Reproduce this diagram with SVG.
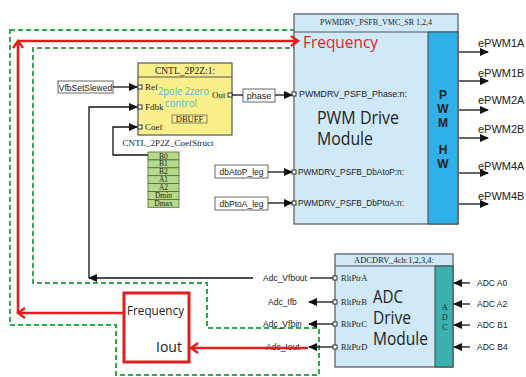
<svg xmlns="http://www.w3.org/2000/svg" width="526" height="377" viewBox="0 0 526 377">
  <style>
    .serif { font-family: "Liberation Serif", "DejaVu Serif", serif; fill: #222; }
    .sans { font-family: "Liberation Sans", Arial, sans-serif; fill: #222; }
    .big { font-family: "Open Sans", "Noto Sans", sans-serif; fill: #222; }
    .wire { stroke: #111; stroke-width: 1.3; fill: none; }
    .red { stroke: #e01e1e; stroke-width: 2.6; fill: none; }
    .dash { stroke: #2fa84f; stroke-width: 2; fill: none; stroke-dasharray: 5 3; }
    .port { fill: #fff; stroke: #333; stroke-width: 1; }
    .lbl { fill: #fff; stroke: #666; stroke-width: 1; }
  </style>
  <defs>
    <marker id="arr" markerUnits="userSpaceOnUse" markerWidth="9" markerHeight="8" refX="8" refY="4" orient="auto">
      <path d="M0,0 L9,4 L0,8 z" fill="#111"/>
    </marker>
    <marker id="redArr" markerUnits="userSpaceOnUse" markerWidth="10" markerHeight="12" refX="8" refY="6" orient="auto">
      <path d="M1,1 L8,6 L1,11" fill="none" stroke="#e01e1e" stroke-width="2.4"/>
    </marker>
  </defs>

  <rect width="526" height="377" fill="#fff"/>

  <!-- feedback region outline -->
  <path class="dash" d="M10,30 H301 V48 H33 V283 H207 V328 H319 V375 H116 V325 H10 Z"/>

  <!-- PWM drive module -->
  <g id="pwm-drive">
    <rect x="294" y="14" width="164" height="210" fill="#cfe9f8" stroke="#555" stroke-width="1.2"/>
    <line x1="294" y1="32" x2="458" y2="32" stroke="#555" stroke-width="1"/>
    <rect x="428" y="32" width="30" height="192" fill="#2fb0e8" stroke="#444" stroke-width="1"/>
    <text class="serif" x="376" y="25" font-size="8" text-anchor="middle">PWMDRV_PSFB_VMC_SR   1,2,4</text>
    <g class="sans" font-size="12" font-weight="bold" text-anchor="middle">
      <text x="443" y="99">P</text>
      <text x="443" y="113">W</text>
      <text x="443" y="127">M</text>
      <text x="443" y="154">H</text>
      <text x="443" y="168">W</text>
    </g>
    <text class="big" x="317" y="124" font-size="19" textLength="82" lengthAdjust="spacingAndGlyphs">PWM Drive</text>
    <text class="big" x="317" y="145" font-size="19" textLength="56" lengthAdjust="spacingAndGlyphs">Module</text>
    <text x="303" y="48" font-family="Open Sans, Noto Sans, sans-serif" font-size="17" fill="#e01e1e" textLength="75" lengthAdjust="spacingAndGlyphs">Frequency</text>
    <rect class="port" x="292" y="92" width="4" height="4"/>
    <rect class="port" x="292" y="170" width="4" height="4"/>
    <rect class="port" x="292" y="201" width="4" height="4"/>
    <g class="sans" font-size="9.5">
      <text x="299" y="97" textLength="108" lengthAdjust="spacingAndGlyphs">PWMDRV_PSFB_Phase:n:</text>
      <text x="298" y="175" textLength="106" lengthAdjust="spacingAndGlyphs">PWMDRV_PSFB_DbAtoP:n:</text>
      <text x="298" y="206" textLength="106" lengthAdjust="spacingAndGlyphs">PWMDRV_PSFB_DbPtoA:n:</text>
    </g>
  </g>

  <!-- PWM outputs -->
  <g id="pwm-outputs" class="sans" font-size="11">
    <text x="478" y="47">ePWM1A</text>
    <text x="478" y="77">ePWM1B</text>
    <text x="478" y="104">ePWM2A</text>
    <text x="478" y="133">ePWM2B</text>
    <text x="478" y="170">ePWM4A</text>
    <text x="478" y="200">ePWM4B</text>
  </g>

  <!-- 2-pole 2-zero controller -->
  <g id="cntl-2p2z">
    <rect x="138" y="63" width="94" height="72" fill="#fbef8c" stroke="#555" stroke-width="1.2"/>
    <line x1="138" y1="77" x2="232" y2="77" stroke="#555" stroke-width="1"/>
    <text class="serif" x="185" y="74" font-size="9.5" text-anchor="middle">CNTL_2P2Z:1:</text>
    <rect class="port" x="138" y="85" width="4" height="4"/>
    <rect class="port" x="138" y="105" width="4" height="4"/>
    <rect class="port" x="138" y="125" width="4" height="4"/>
    <rect class="port" x="228" y="93" width="4" height="4"/>
    <g class="serif" font-size="9">
      <text x="145" y="90">Ref</text>
      <text x="145" y="110">Fdbk</text>
      <text x="145" y="130">Coef</text>
      <text x="212" y="98">Out</text>
    </g>
    <g font-family="Open Sans, Noto Sans, sans-serif" font-size="10.5" fill="#4bb9da">
      <text x="158" y="95" textLength="51" lengthAdjust="spacingAndGlyphs">2pole 2zero</text>
      <text x="165" y="107" textLength="32" lengthAdjust="spacingAndGlyphs">control</text>
    </g>
    <rect x="172" y="115" width="35" height="8" fill="none" stroke="#666" stroke-width="0.8"/>
    <text class="serif" x="189.5" y="122" font-size="8.5" text-anchor="middle">DBUFF</text>
  </g>

  <!-- coefficient structure -->
  <g id="coef-struct">
    <text class="serif" x="168" y="146" font-size="9" text-anchor="middle">CNTL_2P2Z_CoefStruct</text>
    <g fill="#b6d98c" stroke="#4c6b33" stroke-width="0.8">
      <rect x="148" y="152" width="31" height="7.9"/>
      <rect x="148" y="159.9" width="31" height="7.9"/>
      <rect x="148" y="167.8" width="31" height="7.9"/>
      <rect x="148" y="175.7" width="31" height="7.9"/>
      <rect x="148" y="183.6" width="31" height="7.9"/>
      <rect x="148" y="191.5" width="31" height="7.9"/>
      <rect x="148" y="199.4" width="31" height="7.9"/>
    </g>
    <g class="serif" font-size="7.5" text-anchor="middle">
      <text x="163.5" y="158.5">B0</text>
      <text x="163.5" y="166.4">B1</text>
      <text x="163.5" y="174.3">B2</text>
      <text x="163.5" y="182.2">A1</text>
      <text x="163.5" y="190.1">A2</text>
      <text x="163.5" y="198">Dmin</text>
      <text x="163.5" y="205.9">Dmax</text>
    </g>
  </g>

  <!-- signal labels -->
  <g id="vfb-set-slewed">
    <rect class="lbl" x="58" y="81" width="55" height="12"/>
    <text class="sans" x="85.5" y="90.5" font-size="8.5" text-anchor="middle">VfbSetSlewed</text>
  </g>
  <g id="phase">
    <rect class="lbl" x="243" y="89" width="32" height="13"/>
    <text class="sans" x="259" y="99" font-size="9" text-anchor="middle">phase</text>
  </g>
  <g id="dbatop-leg">
    <rect class="lbl" x="215" y="165" width="53" height="13"/>
    <text class="sans" x="241.5" y="175" font-size="8.5" text-anchor="middle">dbAtoP_leg</text>
  </g>
  <g id="dbptoa-leg">
    <rect class="lbl" x="215" y="197" width="53" height="13"/>
    <text class="sans" x="241.5" y="207" font-size="8.5" text-anchor="middle">dbPtoA_leg</text>
  </g>

  <!-- ADC drive module -->
  <g id="adc-drive">
    <rect x="335" y="254" width="118" height="113" fill="#cfe9f8" stroke="#555" stroke-width="1.2"/>
    <line x1="335" y1="266" x2="453" y2="266" stroke="#555" stroke-width="1"/>
    <rect x="435" y="266" width="18" height="101" fill="#3bb0ae" stroke="#444" stroke-width="1"/>
    <text class="serif" x="394" y="263" font-size="8.5" text-anchor="middle">ADCDRV_4ch:1,2,3,4:</text>
    <g class="serif" font-size="8" text-anchor="middle" fill="#1d4f6e">
      <text x="445" y="310">A</text>
      <text x="445" y="320">D</text>
      <text x="445" y="330">C</text>
    </g>
    <rect class="port" x="333" y="276" width="4" height="4"/>
    <rect class="port" x="333" y="300" width="4" height="4"/>
    <rect class="port" x="333" y="322" width="4" height="4"/>
    <rect class="port" x="333" y="345" width="4" height="4"/>
    <g class="serif" font-size="8.5">
      <text x="341" y="281">RltPtrA</text>
      <text x="341" y="305">RltPtrB</text>
      <text x="341" y="327">RltPtrC</text>
      <text x="341" y="350">RltPtrD</text>
    </g>
    <text class="big" x="373" y="303" font-size="19" textLength="30" lengthAdjust="spacingAndGlyphs">ADC</text>
    <text class="big" x="373" y="324" font-size="19" textLength="38" lengthAdjust="spacingAndGlyphs">Drive</text>
    <text class="big" x="373" y="345" font-size="19" textLength="55" lengthAdjust="spacingAndGlyphs">Module</text>
  </g>

  <!-- ADC signal labels -->
  <g id="adc-signals" class="sans" font-size="8.5">
    <text x="263" y="281">Adc_Vfbout</text>
    <text x="268" y="305">Adc_Ifb</text>
    <text x="263" y="327">Adc_Vfbin</text>
    <text x="266" y="350">Adc_Iout</text>
    <text x="477" y="286">ADC A0</text>
    <text x="477" y="307">ADC A2</text>
    <text x="477" y="328">ADC B1</text>
    <text x="477" y="350">ADC B4</text>
  </g>

  <!-- frequency / current estimator -->
  <g id="freq-iout">
    <rect x="124" y="293" width="65" height="69" fill="#fff" stroke="#e01e1e" stroke-width="3"/>
    <text x="127" y="315" font-family="Open Sans, Noto Sans, sans-serif" font-size="13" fill="#222" textLength="57" lengthAdjust="spacingAndGlyphs">Frequency</text>
    <text x="156" y="352" font-family="Open Sans, Noto Sans, sans-serif" font-size="14" fill="#222">Iout</text>
  </g>

  <!-- connectors -->
  <g id="connectors">
    <line class="wire" x1="113" y1="87" x2="137" y2="87" marker-end="url(#arr)"/>
    <path class="wire" d="M89,278 V107 H137" marker-end="url(#arr)"/>
    <path class="wire" d="M148,155 H113 V127 H137" marker-end="url(#arr)"/>
    <line class="wire" x1="232" y1="95" x2="243" y2="95"/>
    <line class="wire" x1="275" y1="95" x2="292" y2="95" marker-end="url(#arr)"/>
    <line class="wire" x1="268" y1="172" x2="292" y2="172" marker-end="url(#arr)"/>
    <line class="wire" x1="268" y1="203" x2="292" y2="203" marker-end="url(#arr)"/>

    <line class="wire" x1="459" y1="52" x2="488" y2="52" marker-end="url(#arr)"/>
    <line class="wire" x1="459" y1="81" x2="488" y2="81" marker-end="url(#arr)"/>
    <line class="wire" x1="459" y1="110" x2="488" y2="110" marker-end="url(#arr)"/>
    <line class="wire" x1="459" y1="138" x2="488" y2="138" marker-end="url(#arr)"/>
    <line class="wire" x1="459" y1="173" x2="488" y2="173" marker-end="url(#arr)"/>
    <line class="wire" x1="459" y1="204" x2="488" y2="204" marker-end="url(#arr)"/>

    <line class="wire" x1="253" y1="278" x2="89" y2="278" marker-end="url(#arr)"/>
    <line class="wire" x1="310" y1="278" x2="333" y2="278"/>
    <line class="wire" x1="333" y1="302" x2="309" y2="302" marker-end="url(#arr)"/>
    <line class="wire" x1="333" y1="324" x2="309" y2="324" marker-end="url(#arr)"/>
    <line class="wire" x1="333" y1="347" x2="309" y2="347" marker-end="url(#arr)"/>

    <line class="wire" x1="470" y1="283" x2="454" y2="283" marker-end="url(#arr)"/>
    <line class="wire" x1="470" y1="304" x2="454" y2="304" marker-end="url(#arr)"/>
    <line class="wire" x1="470" y1="325" x2="454" y2="325" marker-end="url(#arr)"/>
    <line class="wire" x1="470" y1="347" x2="454" y2="347" marker-end="url(#arr)"/>

    <line class="red" x1="308" y1="348" x2="191" y2="348" marker-end="url(#redArr)"/>
    <line class="red" x1="123" y1="313" x2="18" y2="313" marker-end="url(#redArr)"/>
    <line class="red" x1="18" y1="313" x2="18" y2="41" marker-end="url(#redArr)"/>
    <line class="red" x1="18" y1="41" x2="298" y2="41" marker-end="url(#redArr)"/>
  </g>
</svg>
